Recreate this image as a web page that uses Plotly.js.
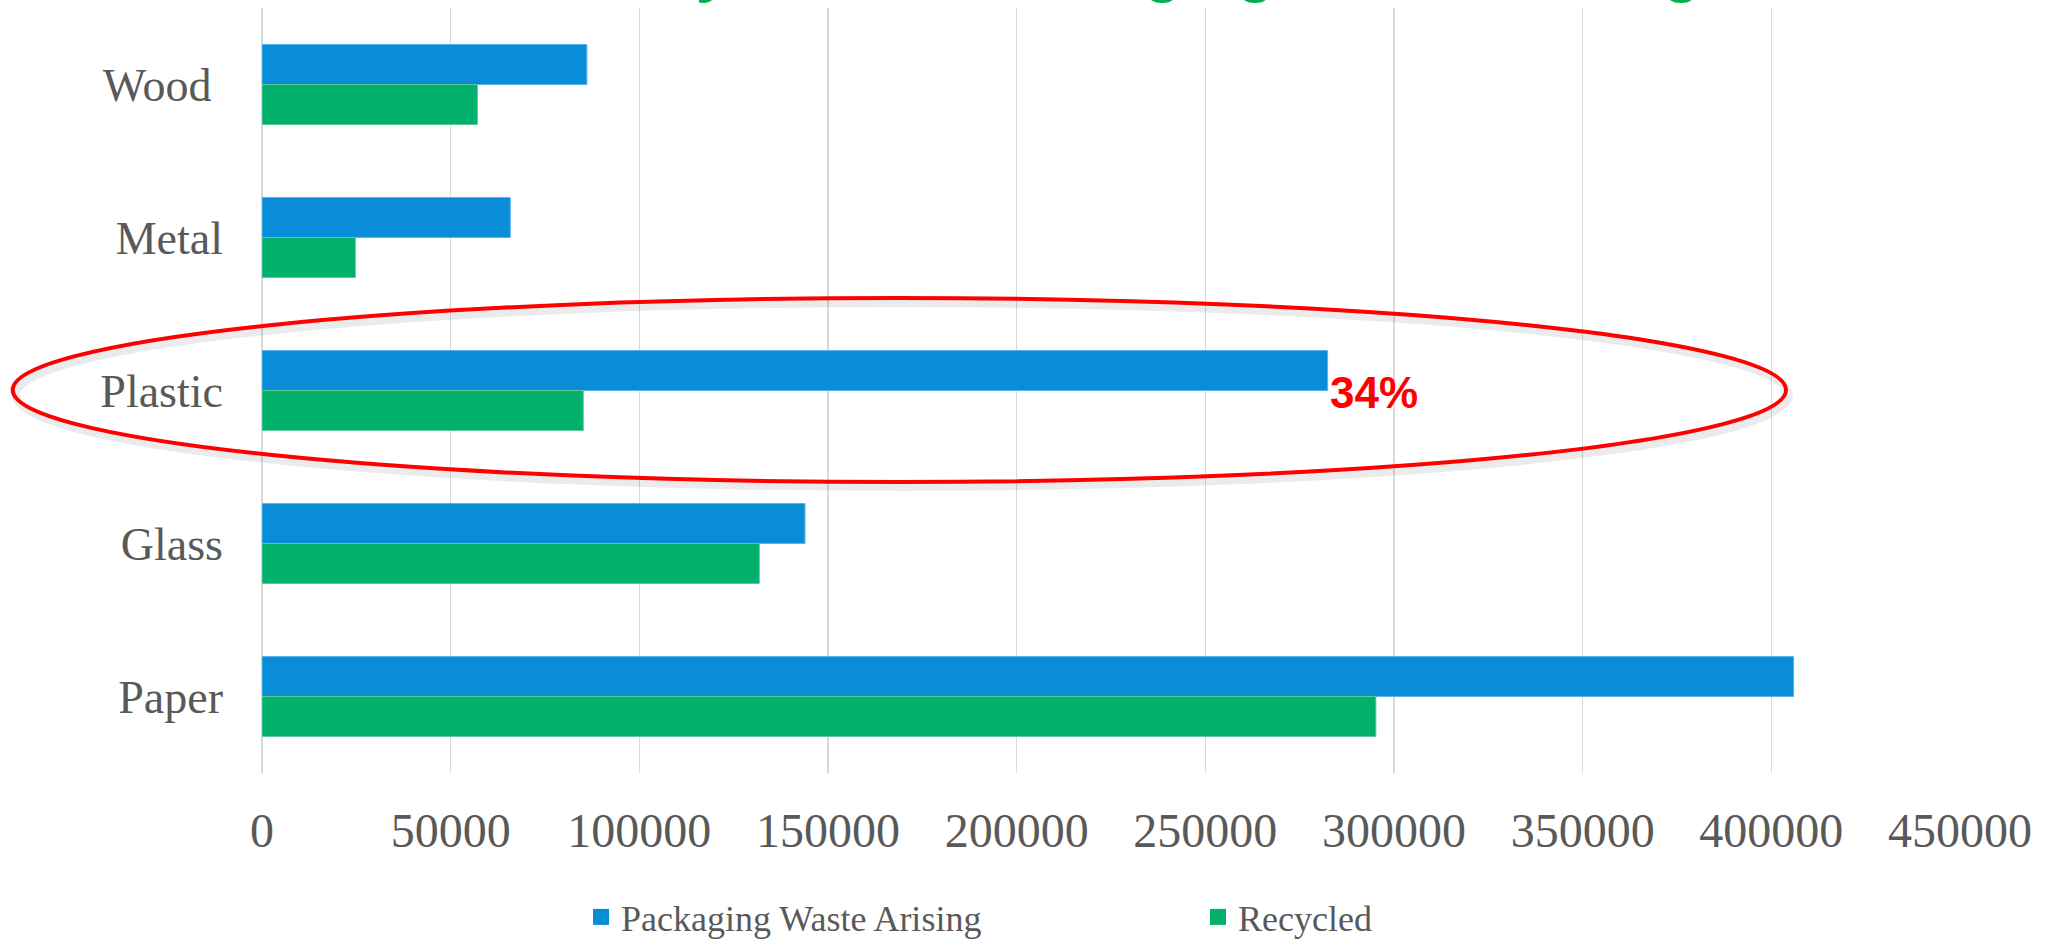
<!DOCTYPE html>
<html>
<head>
<meta charset="utf-8">
<script src="https://cdn.plot.ly/plotly-3.0.1.min.js"></script>
<style>html,body{margin:0;padding:0;background:#fff;}#chart{width:2056px;height:941px;}</style>
</head>
<body>
<div id="chart"></div>
<script>
// ---- data ----
const categories = ['Wood\u00a0', 'Metal', 'Plastic', 'Glass', 'Paper'];
const arising = [86100, 65800, 282400, 143900, 405900];
const recycled = [57100, 24750, 85150, 131800, 295200];
const seriesNames = ['Packaging Waste Arising', 'Recycled'];
const seriesColors = ['#098DD9', '#00B06B'];
const seriesEdges = ['#5AB3EA', '#5CCB9C'];
const titleText = 'Recovery versus Packaging Waste Arising';
const calloutText = '34%';
const calloutCategory = 'Plastic';

// ---- geometry ----
const W = 2056, H = 941;
const M = {l: 262, r: 96, t: 8, b: 168};
const PW = W - M.l - M.r, PH = H - M.t - M.b;
const px2x = p => (p - M.l) / PW;
const px2y = p => (H - M.b - p) / PH;

const serif = 'Liberation Serif, Times New Roman, serif';
const grey = '#595959';

const traces = [
  {type: 'bar', orientation: 'h', name: seriesNames[0], y: categories, x: arising, showlegend: false,
   marker: {color: seriesColors[0], line: {color: seriesEdges[0], width: 1}}, hoverinfo: 'x+y'},
  {type: 'bar', orientation: 'h', name: seriesNames[1], y: categories, x: recycled, showlegend: false,
   marker: {color: seriesColors[1], line: {color: seriesEdges[1], width: 1}}, hoverinfo: 'x+y'},
  // legend keys (no data of their own)
  {type: 'scatter', mode: 'markers', name: seriesNames[0], x: [null], y: [null], showlegend: true,
   marker: {symbol: 'square', size: 17, color: seriesColors[0], line: {width: 0}}},
  {type: 'scatter', mode: 'markers', name: seriesNames[1], x: [null], y: [null], showlegend: true,
   marker: {symbol: 'square', size: 17, color: seriesColors[1], line: {width: 0}}}
];

const ell = {x0: 12.7, x1: 1786, y0: 298, y1: 482};
const shapes = [
  {type: 'circle', xref: 'paper', yref: 'paper', layer: 'above',
   x0: px2x(ell.x0 + 3), x1: px2x(ell.x1 + 3), y0: px2y(ell.y1 + 5), y1: px2y(ell.y0 + 5),
   line: {color: 'rgba(0,0,0,0.08)', width: 8}},
  {type: 'circle', xref: 'paper', yref: 'paper', layer: 'above',
   x0: px2x(ell.x0), x1: px2x(ell.x1), y0: px2y(ell.y1), y1: px2y(ell.y0),
   line: {color: '#FF0000', width: 4}}
];

const layout = {
  width: W, height: H,
  margin: M,
  paper_bgcolor: '#ffffff', plot_bgcolor: '#ffffff',
  showlegend: true,
  barmode: 'group', bargap: 0.477, bargroupgap: 0,
  title: {
    text: titleText,
    font: {family: 'Liberation Sans, Arial, sans-serif', size: 62, color: '#00B050', weight: 'bold'},
    xref: 'container', x: 451 / W, xanchor: 'left',
    yref: 'paper', y: 1, yanchor: 'bottom', pad: {b: 18, t: 0, l: 0, r: 0}
  },
  xaxis: {
    range: [0, 450000], dtick: 50000, tick0: 0, tickformat: 'd',
    showgrid: true, gridcolor: '#D9D9D9', gridwidth: 1.5,
    zeroline: true, zerolinecolor: '#D9D9D9', zerolinewidth: 1.5,
    showline: false, ticks: '',
    tickfont: {family: serif, size: 48, color: grey},
    ticklabelstandoff: 25, fixedrange: true
  },
  yaxis: {
    type: 'category', autorange: 'reversed', categoryorder: 'array', categoryarray: categories,
    showgrid: false, zeroline: false, showline: false, ticks: '',
    tickfont: {family: serif, size: 46, color: grey},
    ticklabelstandoff: 38, fixedrange: true
  },
  legend: {
    orientation: 'h', xref: 'paper', x: px2x(581), xanchor: 'left',
    yref: 'container', y: 1 - 917 / H, yanchor: 'middle',
    font: {family: serif, size: 36, color: grey},
    entrywidth: 572, entrywidthmode: 'pixels',
    bgcolor: 'rgba(0,0,0,0)', borderwidth: 0
  },
  annotations: [{
    xref: 'x', yref: 'y', x: arising[categories.indexOf(calloutCategory)], y: calloutCategory,
    xanchor: 'left', yanchor: 'middle', yshift: -2, showarrow: false,
    text: '<b>' + calloutText + '</b>',
    font: {family: 'Liberation Sans, Arial, sans-serif', size: 44, color: '#FF0000'}
  }],
  shapes: shapes
};

Plotly.newPlot('chart', traces, layout, {displayModeBar: false, staticPlot: true});
</script>
</body>
</html>
